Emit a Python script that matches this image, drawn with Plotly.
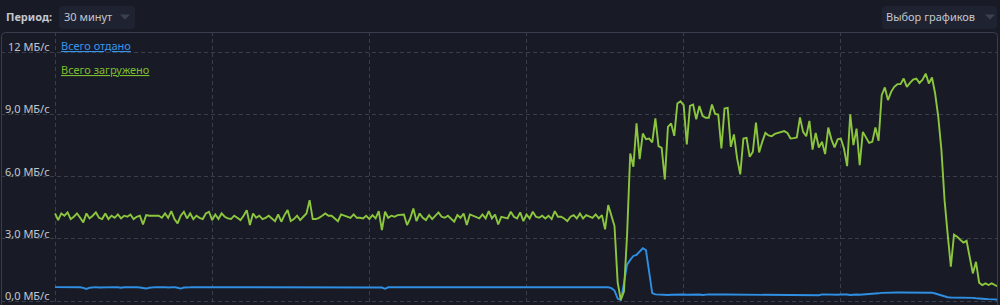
import plotly.graph_objects as go

# ---------------- data ----------------
SAMPLE_MIN = 0.1  # one sample every 6 seconds, 30 minutes window

series_names = ["Всего отдано", "Всего загружено"]

# "Всего отдано" (MB/s)
upload = [
    0.67,0.67,0.68,0.67,0.67,0.66,0.67,0.67,0.66,0.63,
    0.58,0.64,0.67,0.67,0.65,0.66,0.67,0.66,0.67,0.67,
    0.66,0.64,0.66,0.67,0.66,0.67,0.67,0.65,0.63,0.60,
    0.64,0.66,0.67,0.66,0.67,0.67,0.65,0.66,0.67,0.64,
    0.60,0.65,0.67,0.66,0.67,0.67,0.66,0.67,0.67,0.67,
    0.66,0.67,0.67,0.67,0.65,0.67,0.67,0.66,0.67,0.67,
    0.67,0.66,0.64,0.66,0.67,0.67,0.67,0.66,0.67,0.67,
    0.67,0.67,0.65,0.67,0.67,0.66,0.67,0.67,0.67,0.66,
    0.67,0.67,0.67,0.65,0.67,0.67,0.66,0.67,0.67,0.67,
    0.67,0.66,0.67,0.67,0.67,0.66,0.67,0.67,0.67,0.67,
    0.67,0.67,0.66,0.67,0.65,0.59,0.66,0.67,0.67,0.67,
    0.66,0.67,0.65,0.67,0.66,0.67,0.64,0.67,0.66,0.67,
    0.65,0.67,0.67,0.64,0.67,0.66,0.67,0.65,0.67,0.67,
    0.66,0.64,0.67,0.67,0.66,0.67,0.67,0.67,0.66,0.67,
    0.67,0.67,0.67,0.66,0.67,0.64,0.67,0.67,0.66,0.67,
    0.64,0.67,0.66,0.67,0.67,0.65,0.67,0.67,0.67,0.66,
    0.67,0.67,0.67,0.66,0.67,0.67,0.65,0.64,0.65,0.66,
    0.66,0.67,0.66,0.66,0.65,0.66,
    0.66,0.62,0.50,0.12,0.05,0.85,1.75,1.98,2.17,2.22,2.40,2.54,2.45,1.40,0.38,
    0.32,0.31,0.30,0.28,0.29,0.30,0.31,0.30,0.32,0.31,
    0.30,0.31,0.32,0.30,0.31,0.29,0.31,0.32,0.31,0.30,
    0.31,0.31,0.31,0.31,0.31,0.31,0.31,0.31,0.31,0.31,
    0.31,0.31,0.31,0.31,0.31,0.30,0.28,0.31,0.29,0.31,
    0.31,0.30,0.28,0.30,0.31,0.28,0.31,0.31,0.30,0.31,
    0.31,0.31,0.28,0.32,0.31,0.31,0.29,0.31,0.30,0.31,
    0.32,0.31,0.29,0.31,0.31,0.30,0.31,0.32,0.32,0.32,
    0.34,0.37,0.39,0.40,0.41,
    0.41,0.41,0.41,0.41,0.41,0.41,0.41,0.41,0.41,0.41,0.41,0.41,0.41,
    0.40,0.36,0.31,0.26,0.21,0.18,0.17,0.17,0.17,0.16,0.17,
    0.16,0.16,0.15,0.13,0.11,0.10,0.10,0.09,0.10,0.08,0.06,
]

# "Всего загружено" (MB/s)
download = [
    4.22,3.90,4.22,4.11,4.27,3.95,4.06,4.22,4.01,3.79,
    4.22,3.98,4.11,4.27,4.01,3.95,4.22,3.95,4.11,4.01,
    4.17,3.98,4.11,4.06,4.17,3.95,4.06,4.11,3.69,4.14,
    4.11,4.11,4.11,4.11,4.01,4.22,4.01,4.33,3.95,3.74,
    4.11,4.30,3.98,4.22,3.95,4.11,4.01,3.95,4.22,4.30,
    3.90,4.17,3.95,4.22,4.06,3.98,3.95,4.11,4.01,3.90,
    4.11,4.38,3.66,4.22,4.01,4.11,3.95,4.01,4.11,3.98,
    3.85,4.17,3.82,4.14,4.38,3.85,3.95,4.11,3.90,4.06,
    4.22,4.86,3.95,3.95,4.01,4.11,4.22,4.11,4.11,3.98,
    3.85,4.17,
    4.11,4.06,4.01,4.17,4.01,4.01,3.98,4.11,3.95,4.14,
    3.98,4.33,3.42,4.30,4.01,4.11,4.06,4.14,4.14,4.17,
    3.66,3.98,4.46,3.85,4.22,4.01,3.90,4.14,3.95,4.11,
    4.27,4.06,4.01,4.11,3.95,3.82,4.14,4.01,4.22,3.66,
    4.17,4.11,4.06,3.98,4.17,3.98,4.33,3.98,4.17,3.69,
    4.06,4.01,3.98,4.30,4.06,3.98,4.27,3.85,4.17,3.98,
    4.30,4.06,4.01,4.11,3.98,4.11,3.95,4.33,4.06,4.06,
    3.98,3.85,4.06,4.14,3.98,4.22,3.98,4.14,4.06,4.01,
    4.17,3.98,4.14,3.45,
    4.62,4.14,3.61,0.90,0.05,0.45,3.20,
    7.11,6.47,8.56,6.84,8.07,7.80,7.83,7.64,8.80,7.46,
    7.38,5.86,8.39,8.56,7.96,9.52,9.63,9.44,7.54,9.40,
    9.47,8.76,9.40,8.92,8.83,8.83,9.47,9.02,8.99,7.35,
    9.28,9.31,7.43,8.03,6.87,6.10,7.83,7.86,6.95,7.19,
    8.60,7.16,7.67,8.10,7.98,7.94,8.05,8.10,8.15,8.19,
    8.10,7.83,7.85,7.88,8.85,8.15,7.94,8.68,7.30,8.10,
    7.40,7.67,7.08,8.36,7.79,7.40,7.79,7.83,7.35,6.50,
    9.00,7.51,8.31,6.55,8.15,7.88,7.62,7.67,8.36,7.72,
    9.92,10.29,9.68,10.08,10.32,10.45,10.45,10.72,10.32,10.51,
    10.67,10.72,10.51,10.67,10.96,10.48,10.77,10.00,8.87,7.27,
    4.86,3.20,1.65,3.20,3.10,2.95,2.81,2.90,2.20,1.33,
    1.89,0.88,0.77,0.85,0.77,0.85,0.77,0.69,
]

minutes = [i * SAMPLE_MIN for i in range(len(download))]

y_ticks = [0, 3, 6, 9, 12]
y_tick_labels = ["0,0 МБ/с", "3,0 МБ/с", "6,0 МБ/с", "9,0 МБ/с", "12 МБ/с"]
x_ticks = [0, 5, 10, 15, 20, 25]

period_label = "Период:"
period_value = "30 минут"
charts_button = "Выбор графиков"

# ---------------- layout / style ----------------
W, H = 1000, 305
PL, PR, PT, PB = 1, 998, 32, 305  # plot area in pixels

Y0_PX, Y12_PX = 301, 52
Y_SCALE = (Y0_PX - Y12_PX) / 12.0
Y_MIN = -(PB - Y0_PX) / Y_SCALE
Y_MAX = 12 + (Y12_PX - PT) / Y_SCALE
X0_PX, X30_PX = 55, 998
X_SCALE = (X30_PX - X0_PX) / 30.0
X_MIN = -(X0_PX - PL) / X_SCALE
X_MAX = 30

BG = "#181b25"
GRID = "#3a3e4a"
FRAME = "#393e4e"
TEXT = "#c3c7d0"
BLUE = "#2f8fe3"
GREEN = "#8cc63e"
LEG_BLUE = "#3896ea"
LEG_GREEN = "#7dbd30"
BOX = "#1f2331"
TRI = "#3c4150"
FONT = "Noto Sans"
FS = 11


def px_x(p):
    return (p - PL) / (PR - PL)


def px_y(p):
    return (PB - p) / (PB - PT)


fig = go.Figure()
fig.add_trace(go.Scatter(x=minutes, y=upload, mode="lines", name=series_names[0],
                         line=dict(color=BLUE, width=1.9), hoverinfo="skip"))
fig.add_trace(go.Scatter(x=minutes, y=download, mode="lines", name=series_names[1],
                         line=dict(color=GREEN, width=1.9), hoverinfo="skip"))

annotations = []
for v, lab in zip(y_ticks, y_tick_labels):
    annotations.append(dict(x=0, y=v, xref="x", yref="y", text=lab, showarrow=False,
                            xanchor="right", yanchor="bottom", xshift=-3, yshift=-4,
                            font=dict(family=FONT, size=FS, color=TEXT)))

legend_y = [45, 69]
legend_colors = [LEG_BLUE, LEG_GREEN]
for name, ly, col in zip(series_names, legend_y, legend_colors):
    annotations.append(dict(x=px_x(59), y=px_y(ly), xref="paper", yref="paper",
                            text="<u>" + name + "</u>", showarrow=False,
                            xanchor="left", yanchor="middle",
                            font=dict(family=FONT, size=FS, color=col)))

annotations.append(dict(x=px_x(4), y=px_y(17), xref="paper", yref="paper",
                        text="<b>" + period_label + "</b>", showarrow=False,
                        xanchor="left", yanchor="middle",
                        font=dict(family=FONT, size=FS, color=TEXT)))
annotations.append(dict(x=px_x(62), y=px_y(17), xref="paper", yref="paper",
                        text=period_value, showarrow=False,
                        xanchor="left", yanchor="middle",
                        font=dict(family=FONT, size=FS, color=TEXT)))
annotations.append(dict(x=px_x(884), y=px_y(17), xref="paper", yref="paper",
                        text=charts_button, showarrow=False,
                        xanchor="left", yanchor="middle",
                        font=dict(family=FONT, size=FS, color=TEXT)))


def rounded_rect(x0, y0, x1, y1, r):
    X = px_x
    Y = px_y
    return (f"M {X(x0 + r)},{Y(y0)} L {X(x1 - r)},{Y(y0)} "
            f"Q {X(x1)},{Y(y0)} {X(x1)},{Y(y0 + r)} L {X(x1)},{Y(y1 - r)} "
            f"Q {X(x1)},{Y(y1)} {X(x1 - r)},{Y(y1)} L {X(x0 + r)},{Y(y1)} "
            f"Q {X(x0)},{Y(y1)} {X(x0)},{Y(y1 - r)} L {X(x0)},{Y(y0 + r)} "
            f"Q {X(x0)},{Y(y0)} {X(x0 + r)},{Y(y0)} Z")


def triangle(cx, top, w, h):
    return (f"M {px_x(cx - w / 2)},{px_y(top)} L {px_x(cx + w / 2)},{px_y(top)} "
            f"L {px_x(cx)},{px_y(top + h)} Z")


shapes = [
    dict(type="path", xref="paper", yref="paper", path=rounded_rect(1.5, 32.5, 997.5, 320, 4),
         line=dict(color=FRAME, width=1), fillcolor="rgba(0,0,0,0)", layer="above"),
    dict(type="path", xref="paper", yref="paper", path=rounded_rect(59, 6, 135, 29, 4),
         line=dict(width=0), fillcolor=BOX, layer="below"),
    dict(type="path", xref="paper", yref="paper", path=rounded_rect(882, 6, 997, 29, 4),
         line=dict(width=0), fillcolor=BOX, layer="below"),
    dict(type="path", xref="paper", yref="paper", path=triangle(125, 14.5, 10, 5),
         line=dict(width=0), fillcolor=TRI),
    dict(type="path", xref="paper", yref="paper", path=triangle(990, 14.5, 10, 5),
         line=dict(width=0), fillcolor=TRI),
]

fig.update_layout(
    width=W, height=H,
    margin=dict(l=PL, r=W - PR, t=PT, b=H - PB, pad=0, autoexpand=False),
    paper_bgcolor=BG, plot_bgcolor=BG,
    showlegend=False,
    annotations=annotations,
    shapes=shapes,
    xaxis=dict(range=[X_MIN, X_MAX], tickvals=x_ticks, showticklabels=False,
               showgrid=True, gridcolor=GRID, gridwidth=1, griddash="4px,3px",
               zeroline=False, showline=False, ticks="", fixedrange=True),
    yaxis=dict(range=[Y_MIN, Y_MAX], tickvals=y_ticks, showticklabels=False,
               showgrid=True, gridcolor=GRID, gridwidth=1, griddash="4px,3px",
               zeroline=False, showline=False, ticks="", fixedrange=True),
)

fig.write_html("out.html", config={"displayModeBar": False})
